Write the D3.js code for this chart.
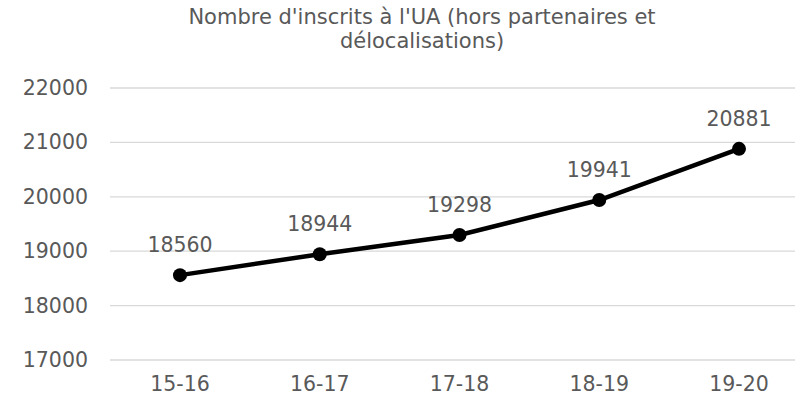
<!DOCTYPE html>
<meta charset="utf-8">
<style>
  body { margin: 0; background: #fff; }
  .grid line { stroke: #d9d9d9; stroke-width: 1.3px; }
  .lbl { font-family: "DejaVu Sans", Verdana, sans-serif; font-size: 20.5px; fill: #595959; }
  .title { font-family: "DejaVu Sans", Verdana, sans-serif; font-size: 21px; fill: #595959; }
  .line { fill: none; stroke: #000; stroke-width: 4.5px; }
</style>
<body>
<script src="https://d3js.org/d3.v7.min.js"></script>
<script>
  // data
  var years = ["15-16", "16-17", "17-18", "18-19", "19-20"];
  var inscrits = [18560, 18944, 19298, 19941, 20881];
  var yTicks = [17000, 18000, 19000, 20000, 21000, 22000];

  var width = 795, height = 401;

  var svg = d3.select("body").append("svg")
    .attr("width", width)
    .attr("height", height);

  // scales
  var x = d3.scalePoint().domain(years).range([180, 739]);
  var y = d3.scaleLinear().domain([17000, 22000]).range([360, 88]);

  // title
  svg.append("text").attr("class", "title")
    .attr("x", 422).attr("y", 24).attr("text-anchor", "middle")
    .text("Nombre d'inscrits à l'UA (hors partenaires et");
  svg.append("text").attr("class", "title")
    .attr("x", 422).attr("y", 48).attr("text-anchor", "middle")
    .text("délocalisations)");

  // gridlines
  svg.append("g").attr("class", "grid")
    .selectAll("line").data(yTicks).enter().append("line")
    .attr("x1", 110).attr("x2", width)
    .attr("y1", function (d) { return y(d); })
    .attr("y2", function (d) { return y(d); });

  // y axis labels
  svg.append("g").selectAll("text").data(yTicks).enter().append("text")
    .attr("class", "lbl")
    .attr("x", 88).attr("y", function (d) { return y(d) + 7; })
    .attr("text-anchor", "end")
    .text(function (d) { return d; });

  // x axis labels
  svg.append("g").selectAll("text").data(years).enter().append("text")
    .attr("class", "lbl")
    .attr("x", function (d) { return x(d); }).attr("y", 391)
    .attr("text-anchor", "middle")
    .text(function (d) { return d; });

  var data = years.map(function (d, i) { return { year: d, value: inscrits[i] }; });

  var valueline = d3.line()
    .x(function (d) { return x(d.year); })
    .y(function (d) { return y(d.value); });

  svg.append("path").datum(data).attr("class", "line").attr("d", valueline);

  svg.append("g").selectAll("circle").data(data).enter().append("circle")
    .attr("cx", function (d) { return x(d.year); })
    .attr("cy", function (d) { return y(d.value); })
    .attr("r", 7).attr("fill", "#000");

  // data labels
  svg.append("g").selectAll("text").data(data).enter().append("text")
    .attr("class", "lbl")
    .attr("x", function (d) { return x(d.year); })
    .attr("y", function (d) { return y(d.value) - 23; })
    .attr("text-anchor", "middle")
    .text(function (d) { return d.value; });
</script>
</body>
